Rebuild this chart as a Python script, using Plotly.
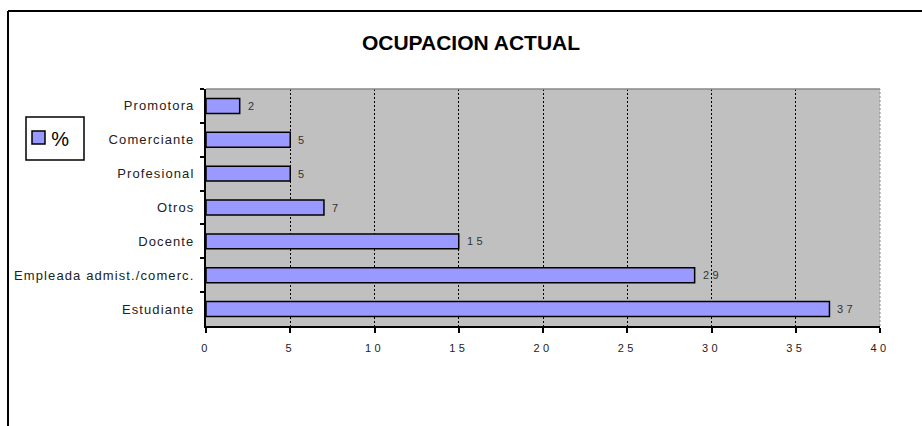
import plotly.graph_objects as go

categories = ["Promotora", "Comerciante", "Profesional", "Otros", "Docente",
              "Empleada admist./comerc.", "Estudiante"]
values = [2, 5, 5, 7, 15, 29, 37]
series_name = "%"
x_ticks = [0, 5, 10, 15, 20, 25, 30, 35, 40]
title = "OCUPACION ACTUAL"

W, H = 922, 426
L, R, T, B = 206, 880, 89, 326
pw, ph = R - L, B - T
BAR_COLOR = "#9999FF"

def px(x):
    return (x - L) / pw

def py(y):
    return (B - y) / ph

fig = go.Figure()
fig.add_trace(go.Bar(
    x=values, y=categories, orientation="h", name=series_name,
    marker=dict(color=BAR_COLOR, line=dict(color="black", width=1.5)),
    showlegend=False, hoverinfo="x+y",
))

# value labels
for c, v in zip(categories, values):
    fig.add_annotation(x=v, y=c, xref="x", yref="y", text=str(v), align="left",
                       xanchor="left", yanchor="middle", xshift=6, showarrow=False,
                       font=dict(family="Liberation Sans, Arial", size=11,
                                 color="#333333"))

fig.update_layout(
    width=W, height=H,
    margin=dict(l=L, r=W - R, t=T, b=H - B),
    paper_bgcolor="white", plot_bgcolor="#C0C0C0",
    bargap=0.56,
    font=dict(family="Liberation Sans, Arial", size=11, color="#222222"),
    title=dict(text="<b>" + title + "</b>", x=471 / W, xanchor="center",
               y=1 - 42.5 / H, yanchor="middle",
               font=dict(size=21, color="black")),
    showlegend=False,
)
fig.update_xaxes(range=[0, 40], tickvals=x_ticks, ticktext=[str(t) for t in x_ticks],
                 showgrid=True, gridcolor="black", griddash="2px,2px", gridwidth=1,
                 showline=True, linecolor="black", linewidth=2,
                 ticks="outside", ticklen=5, tickcolor="black", tickwidth=2,
                 ticklabelstandoff=6,
                 zeroline=False, mirror=False,
                 tickfont=dict(size=11, color="#222222"))
fig.update_yaxes(autorange="reversed", showline=True, linecolor="black", linewidth=2,
                 ticks="outside", tickson="boundaries", ticklen=4, tickcolor="black",
                 tickwidth=2, showgrid=False, ticklabelstandoff=7,
                 tickfont=dict(size=13, color="#222222"))

# top edge of plot area and outer frame
fig.add_shape(type="line", xref="paper", yref="paper", x0=0, x1=1, y0=1, y1=1,
              line=dict(color="#888888", width=1.5))
fig.add_shape(type="line", xref="paper", yref="paper", x0=1, x1=1, y0=0, y1=1,
              line=dict(color="#888888", width=1, dash="2px,2px"))
fig.add_shape(type="line", xref="paper", yref="paper", x0=px(8), x1=px(W + 2),
              y0=py(11), y1=py(11), line=dict(color="black", width=2))
fig.add_shape(type="line", xref="paper", yref="paper", x0=px(8), x1=px(8),
              y0=py(11), y1=py(H + 2), line=dict(color="black", width=2))

# legend box (drawn)
fig.add_shape(type="rect", xref="paper", yref="paper", x0=px(26), x1=px(84),
              y0=py(160), y1=py(117), line=dict(color="black", width=1.5),
              fillcolor="white")
fig.add_shape(type="rect", xref="paper", yref="paper", x0=px(32), x1=px(45),
              y0=py(144), y1=py(131), line=dict(color="black", width=1.5),
              fillcolor=BAR_COLOR)
fig.add_annotation(xref="paper", yref="paper", x=px(51), y=py(138.5),
                   xanchor="left", yanchor="middle", showarrow=False,
                   text=series_name, font=dict(size=20, color="black"))

post = ("var s=document.createElement('style');"
        "s.textContent='.xtick text{letter-spacing:3.5px}"
        " .ytick text{letter-spacing:1.1px}"
        " .annotation-text{letter-spacing:3.5px}';"
        "document.head.appendChild(s);document.body.style.margin='0';")
fig.write_html("out.html", post_script=post, config={"displayModeBar": False})
